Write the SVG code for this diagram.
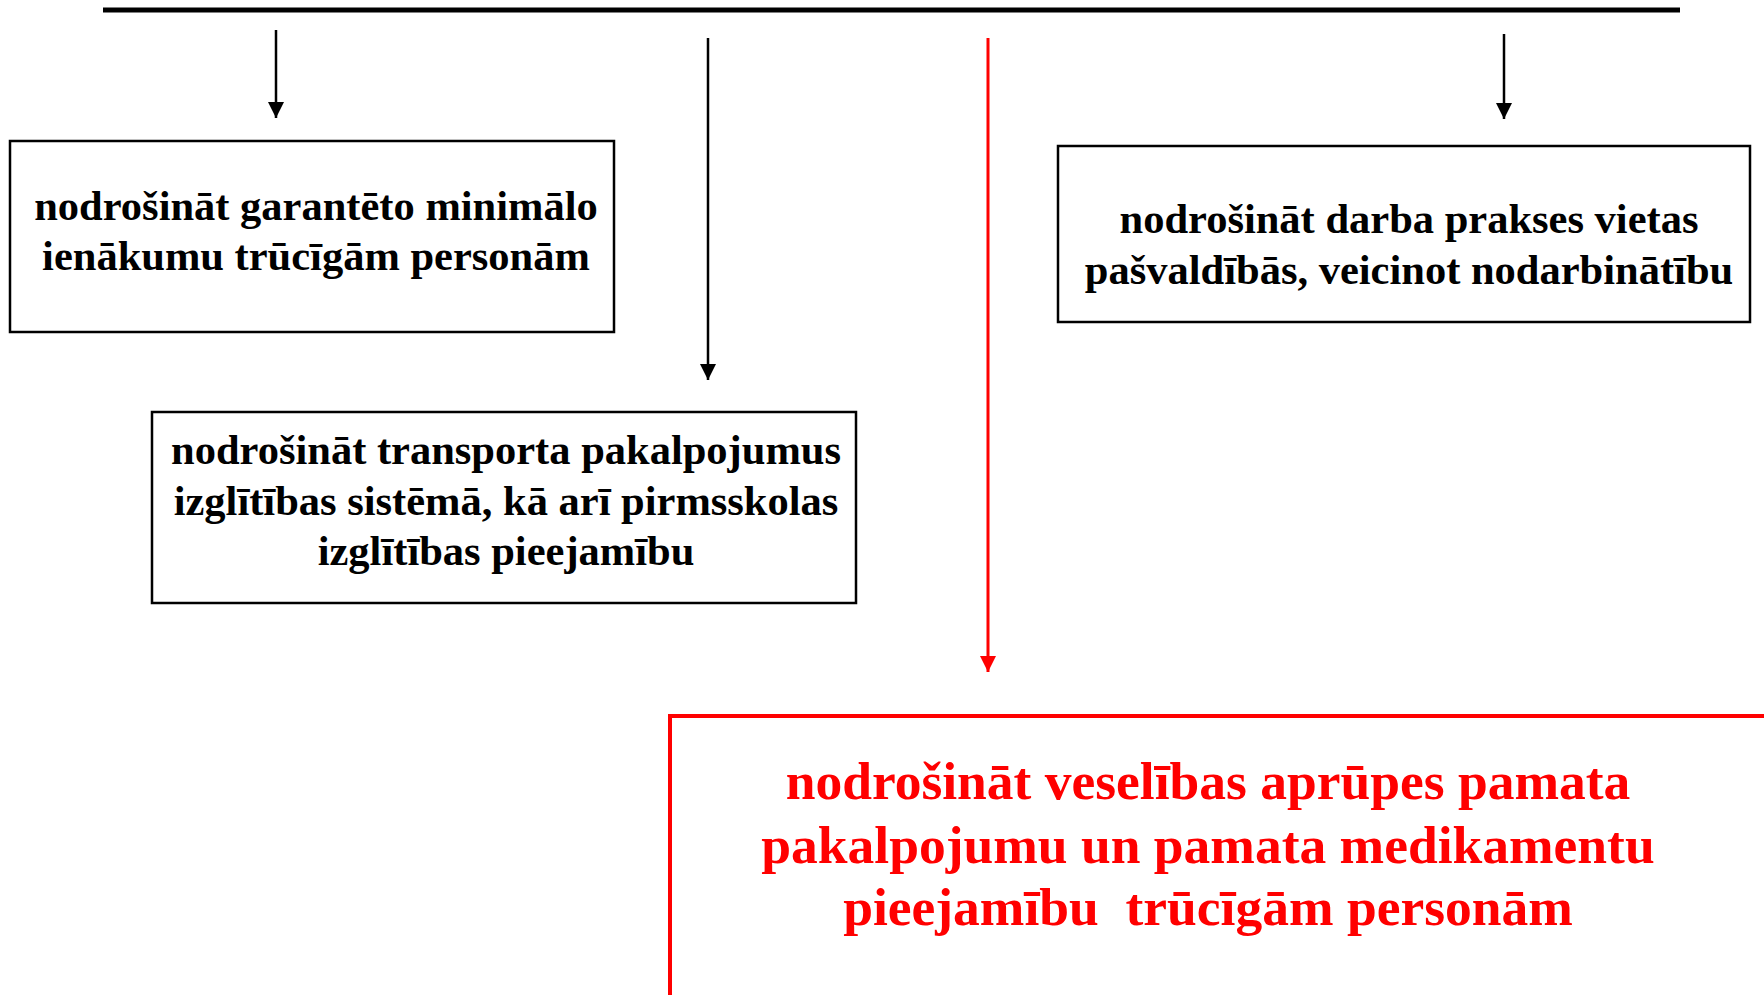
<svg xmlns="http://www.w3.org/2000/svg" width="1764" height="995" viewBox="0 0 1764 995">
<style>
.box{fill:#fff;stroke:#000;stroke-width:2.5}
.rbox{fill:#fff;stroke:#ff0000;stroke-width:4}
.t{font-family:"Liberation Serif","Times New Roman",serif;font-weight:bold;font-size:42.5px;fill:#000;text-anchor:middle}
.rt{font-family:"Liberation Serif","Times New Roman",serif;font-weight:bold;font-size:53.5px;fill:#ff0000;text-anchor:middle}
.c{stroke:#000;stroke-width:2.5;fill:none}
.cr{stroke:#ff0000;stroke-width:3;fill:none}
</style>
<defs>
<marker id="ah" markerUnits="userSpaceOnUse" markerWidth="16" markerHeight="16" viewBox="0 0 16 16" refX="16" refY="8" orient="auto">
<path d="M0,0 L16,8 L0,16 Z" fill="#000"/>
</marker>
<marker id="ahr" markerUnits="userSpaceOnUse" markerWidth="16" markerHeight="16" viewBox="0 0 16 16" refX="16" refY="8" orient="auto">
<path d="M0,0 L16,8 L0,16 Z" fill="#ff0000"/>
</marker>
</defs>
<rect width="1764" height="995" fill="#fff"/>
<g id="connectors">
<line x1="103" y1="10" x2="1680" y2="10" stroke="#000" stroke-width="5"/>
<line class="c" x1="276" y1="30" x2="276" y2="118" marker-end="url(#ah)"/>
<line class="c" x1="708" y1="38" x2="708" y2="380" marker-end="url(#ah)"/>
<line class="cr" x1="988" y1="38" x2="988" y2="672" marker-end="url(#ahr)"/>
<line class="c" x1="1504" y1="34" x2="1504" y2="119" marker-end="url(#ah)"/>
</g>
<g id="node-income">
<rect class="box" x="10" y="141" width="604" height="191"/>
<text class="t" x="316" y="220">nodrošināt garantēto minimālo</text>
<text class="t" x="316" y="270">ienākumu trūcīgām personām</text>
</g>
<g id="node-transport">
<rect class="box" x="152" y="412" width="704" height="191"/>
<text class="t" x="506" y="464">nodrošināt transporta pakalpojumus</text>
<text class="t" x="506" y="515">izglītības sistēmā, kā arī pirmsskolas</text>
<text class="t" x="506" y="565">izglītības pieejamību</text>
</g>
<g id="node-work">
<rect class="box" x="1058" y="146" width="692" height="176"/>
<text class="t" x="1409" y="233">nodrošināt darba prakses vietas</text>
<text class="t" x="1409" y="284">pašvaldībās, veicinot nodarbinātību</text>
</g>
<g id="node-health">
<rect class="rbox" x="670" y="716" width="1150" height="340"/>
<text class="rt" x="1208" y="799">nodrošināt veselības aprūpes pamata</text>
<text class="rt" x="1208" y="863">pakalpojumu un pamata medikamentu</text>
<text class="rt" x="1208" y="925" xml:space="preserve">pieejamību  trūcīgām personām</text>
</g>
</svg>
